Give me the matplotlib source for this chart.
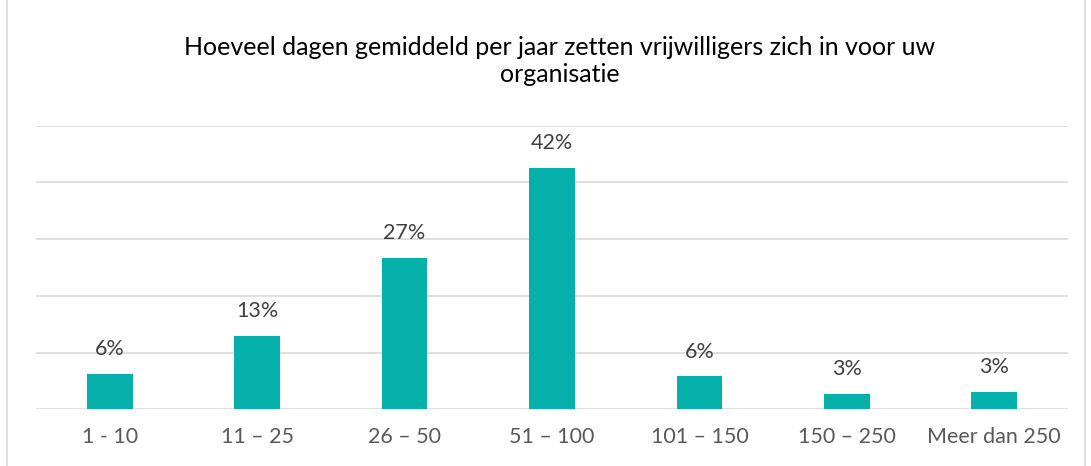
import matplotlib.pyplot as plt
from matplotlib.patches import Rectangle

# Data
categories = ['1 - 10', '11 – 25', '26 – 50', '51 – 100', '101 – 150', '150 – 250', 'Meer dan 250']
shares = [6.2, 12.9, 26.7, 42.5, 5.8, 2.75, 3.05]
labels = ['6%', '13%', '27%', '42%', '6%', '3%', '3%']

plt.rcParams['font.family'] = ['Lato', 'DejaVu Sans']

fig = plt.figure(figsize=(10.91, 4.66), dpi=100)
ax = fig.add_axes([36 / 1091, 1 - 409.3 / 466, (1068 - 36) / 1091, (409.3 - 125.7) / 466])

# light frame around the whole chart
fig.patches.append(Rectangle((7 / 1091, -0.05), (1085 - 7) / 1091, 1.1,
                             transform=fig.transFigure, fill=False,
                             edgecolor='#d9d9d9', linewidth=1.2))

x = range(len(categories))
ax.bar(x, shares, width=0.31, color='#05b0aa', zorder=3)

for i, (v, lab) in enumerate(zip(shares, labels)):
    ax.text(i, v + 2.6, lab, ha='center', va='bottom', fontsize=15.5, color='#404040')

ax.set_ylim(0, 50)
ax.set_xlim(-0.5, len(categories) - 0.5)
ax.set_yticks(range(0, 51, 10))
ax.yaxis.grid(True, color='#d9d9d9', linewidth=1.2, zorder=0)
ax.tick_params(axis='y', left=False, labelleft=False)
ax.tick_params(axis='x', bottom=False, pad=9, labelsize=15.5, labelcolor='#595959')
ax.set_xticks(list(x))
ax.set_xticklabels(categories)
for s in ax.spines.values():
    s.set_visible(False)

fig.text(560 / 1091, 1 - 61 / 466,
         'Hoeveel dagen gemiddeld per jaar zetten vrijwilligers zich in voor uw\norganisatie',
         ha='center', va='center', fontsize=18, color='#000000', linespacing=1.2)

plt.savefig('out.png', dpi=100)
